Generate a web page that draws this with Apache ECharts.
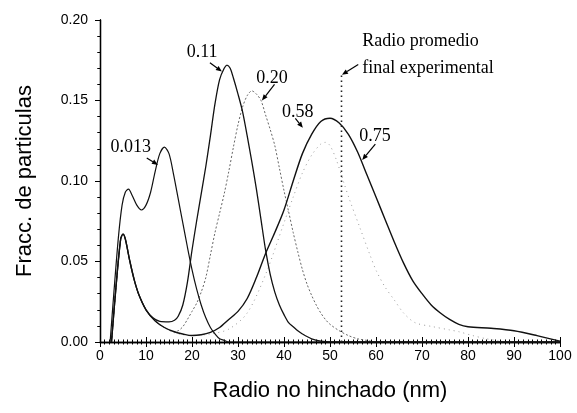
<!DOCTYPE html>
<html><head><meta charset="utf-8">
<script src="https://cdn.jsdelivr.net/npm/echarts@6/dist/echarts.min.js"></script>
<style>html,body{margin:0;padding:0;background:#fff}#c{width:577px;height:413px}</style>
</head><body><div id="c"></div>
<script>
// ---- data: [radius nm, fraction] ----
const curve013 = [[2.2,0],[3,0.03],[4,0.065],[4.8,0.085],[5.5,0.093],[6.2,0.095],[7,0.091],[8,0.085],[9,0.082],[10,0.085],[11,0.093],[12,0.106],[13,0.117],[14,0.121],[15,0.117],[16,0.104],[17,0.089],[18,0.074],[19,0.059],[20,0.045],[21,0.033],[22,0.023],[23,0.015],[24,0.009],[25,0.005],[26,0.002],[27,0.001],[28,0],[100,0]];
const curve011 = [[2.5,0],[3.5,0.035],[4.5,0.064],[5,0.067],[5.5,0.064],[6.5,0.05],[7.5,0.038],[8.5,0.029],[10,0.02],[11.5,0.015],[13,0.0128],[15,0.0125],[16.2,0.0135],[17,0.016],[18,0.023],[19,0.037],[20,0.057],[21,0.075],[22,0.092],[23,0.109],[24,0.128],[25,0.148],[26,0.163],[27,0.170],[27.6,0.172],[28.3,0.170],[29,0.164],[30,0.154],[31,0.143],[32,0.128],[33,0.112],[34,0.095],[35,0.076],[36,0.057],[37,0.042],[38,0.031],[39,0.023],[40,0.017],[41,0.012],[42,0.0095],[43,0.007],[44,0.005],[46,0.002],[48,0.0005],[50,0],[100,0]];
const curve020 = [[2.5,0],[3.5,0.035],[4.5,0.064],[5,0.067],[5.5,0.064],[6.5,0.05],[7.5,0.038],[8.5,0.029],[10,0.02],[12,0.013],[14,0.009],[16,0.0065],[17,0.007],[18,0.0095],[19,0.014],[20,0.019],[21,0.024],[22,0.031],[23,0.040],[24,0.054],[25,0.068],[26,0.080],[27,0.092],[28,0.106],[29,0.121],[30,0.135],[31,0.146],[32,0.153],[33,0.156],[34,0.154],[35,0.150],[36,0.141],[37,0.132],[38,0.122],[39,0.108],[40,0.094],[41,0.081],[42,0.068],[43,0.056],[44,0.045],[45,0.036],[46,0.029],[47,0.023],[48,0.018],[49,0.014],[50,0.011],[52,0.007],[54,0.004],[56,0.002],[58,0.001],[60,0],[100,0]];
const curve058 = [[2.5,0],[3.5,0.035],[4.5,0.064],[5,0.067],[5.5,0.064],[6.5,0.05],[7.5,0.038],[8.5,0.029],[10,0.02],[12,0.013],[14,0.009],[16,0.0065],[18,0.005],[20,0.004],[22,0.0045],[24,0.006],[26,0.009],[28,0.014],[30,0.019],[32,0.027],[34,0.040],[36,0.055],[38,0.068],[40,0.082],[42,0.100],[44,0.117],[46,0.129],[48,0.137],[50,0.139],[52,0.136],[54,0.129],[56,0.118],[58,0.104],[60,0.090],[62,0.076],[64,0.062],[66,0.049],[68,0.038],[70,0.030],[72,0.023],[74,0.018],[76,0.014],[78,0.011],[80,0.0095],[85,0.0085],[90,0.007],[95,0.004],[100,0.0005]];
const curve075 = [[2.5,0],[3.5,0.035],[4.5,0.064],[5,0.067],[5.5,0.064],[6.5,0.05],[7.5,0.038],[8.5,0.029],[10,0.02],[12,0.013],[14,0.009],[16,0.006],[18,0.0045],[20,0.004],[24,0.005],[28,0.008],[32,0.018],[36,0.042],[40,0.074],[42,0.090],[44,0.105],[46,0.116],[48,0.123],[49,0.124],[50,0.122],[51.4,0.113],[53,0.099],[54.3,0.088],[56.5,0.071],[58.7,0.054],[60.1,0.044],[62,0.034],[64,0.026],[66,0.018],[68.5,0.012],[72.4,0.0095],[76,0.0075],[78,0.0064],[81,0.004],[84,0.002],[88,0]];
const expRadius = [[52.5,0],[52.5,0.166]];
const xTicks = [0,10,20,30,40,50,60,70,80,90,100];
const yTicks = [0,0.05,0.10,0.15,0.20];
// annotations: text, text position (data), arrow from -> to (data)
const notes = [
  {t:'0.013', at:[6.7,0.121], from:[10.9,0.113], to:[12.6,0.110]},
  {t:'0.11',  at:[22.2,0.180], from:[24.6,0.172], to:[26.5,0.168]},
  {t:'0.20',  at:[37.4,0.164], from:[37.4,0.158], to:[35.2,0.150]},
  {t:'0.58',  at:[43.0,0.143], from:[43.0,0.137], to:[44.1,0.133]},
  {t:'0.75',  at:[59.8,0.128], from:[59.3,0.121], to:[57.0,0.113]}
];
const expNote = {lines:['Radio promedio','final experimental'], at:[[57.0,0.187],[57.0,0.170]], from:[55.4,0.171], to:[52.6,0.166]};

const chart = echarts.init(document.getElementById('c'));
const sans = 'Liberation Sans, Arial, sans-serif';
const serif = 'Liberation Serif, Times New Roman, serif';
function line(name, data, w, type, color){
  return {name, type:'line', data, smooth:0.3, symbol:'none', silent:true,
    lineStyle:{width:w, type:type, color:color}, z: 3};
}
chart.setOption({
  animation:false,
  grid:{left:100, right:17, top:20, bottom:71},
  xAxis:[{type:'value', min:0, max:100, interval:10,
    name:'Radio no hinchado (nm)', nameLocation:'middle', nameGap:38,
    nameTextStyle:{fontFamily:sans, fontSize:22, color:'#000'},
    axisLine:{lineStyle:{color:'#000', width:1.3}},
    axisTick:{inside:true, length:5, lineStyle:{color:'#000'}},
    minorTick:{show:true, splitNumber:10, length:2.5, lineStyle:{color:'#000'}},
    axisLabel:{fontFamily:sans, fontSize:14, color:'#000', margin:7,
      formatter:v=>xTicks.includes(v)?String(v):''},
    splitLine:{show:false}},
   {type:'value', min:0, max:100, interval:10, position:'top',
    axisLine:{lineStyle:{color:'#000', width:1.3}},
    axisTick:{inside:true, length:5, lineStyle:{color:'#000'}},
    minorTick:{show:true, splitNumber:10, length:2.5, lineStyle:{color:'#000'}},
    axisLabel:{show:false}, splitLine:{show:false}}],
  yAxis:[{type:'value', min:0, max:0.2, interval:0.05,
    name:'Fracc. de particulas', nameLocation:'middle', nameGap:64,
    nameTextStyle:{fontFamily:sans, fontSize:22, color:'#000'},
    axisLine:{show:true, lineStyle:{color:'#000', width:1.3}},
    axisTick:{show:true, inside:false, length:4, lineStyle:{color:'#000'}},
    minorTick:{show:true, splitNumber:5, length:2.5, lineStyle:{color:'#000'}},
    axisLabel:{fontFamily:sans, fontSize:14, color:'#000', margin:12,
      formatter:v=>yTicks.some(t=>Math.abs(t-v)<1e-9)?v.toFixed(2):''},
    splitLine:{show:false}},
   {type:'value', min:0, max:0.2, interval:0.05, position:'right',
    axisLine:{show:true, lineStyle:{color:'#000', width:1.3}},
    axisTick:{show:true, inside:true, length:5, lineStyle:{color:'#000'}},
    minorTick:{show:true, splitNumber:5, length:2.5, lineStyle:{color:'#000'}},
    axisLabel:{show:false}, splitLine:{show:false}}],
  series:[
    line('0.75', curve075, 1, [1,4], '#999'),
    line('0.20', curve020, 1, [2,2], '#666'),
    line('0.013', curve013, 1.2, 'solid', '#111'),
    line('0.11', curve011, 1.3, 'solid', '#111'),
    line('0.58', curve058, 1.4, 'solid', '#111'),
    {name:'exp', type:'line', data:expRadius, symbol:'none', silent:true,
      lineStyle:{width:1.6, type:[1.5,3.5], color:'#222'}}
  ]
});

function px(p){ return chart.convertToPixel({xAxisIndex:0, yAxisIndex:0}, p); }
function arrow(from, to){
  const a = px(from), b = px(to);
  const dx=b[0]-a[0], dy=b[1]-a[1], L=Math.hypot(dx,dy)||1, ux=dx/L, uy=dy/L;
  const hl=6, hw=2.5;
  const base=[b[0]-ux*hl, b[1]-uy*hl];
  return [
    {type:'line', shape:{x1:a[0]-ux*4,y1:a[1]-uy*4,x2:base[0],y2:base[1]}, style:{stroke:'#000', lineWidth:1.2}, z:10},
    {type:'polygon', shape:{points:[b,[base[0]-uy*hw, base[1]+ux*hw],[base[0]+uy*hw, base[1]-ux*hw]]}, style:{fill:'#000'}, z:10}
  ];
}
const g = [];
notes.forEach(n=>{
  const p = px(n.at);
  g.push({type:'text', x:p[0], y:p[1], style:{text:n.t, font:'18px '+serif, fill:'#000', align:'center', verticalAlign:'middle'}, z:10});
  g.push(...arrow(n.from, n.to));
});
expNote.lines.forEach((s,i)=>{
  const p = px(expNote.at[i]);
  g.push({type:'text', x:p[0], y:p[1], style:{text:s, font:'18px '+serif, fill:'#000', align:'left', verticalAlign:'middle'}, z:10});
});
g.push(...arrow(expNote.from, expNote.to));
chart.setOption({graphic:g});
</script></body></html>
